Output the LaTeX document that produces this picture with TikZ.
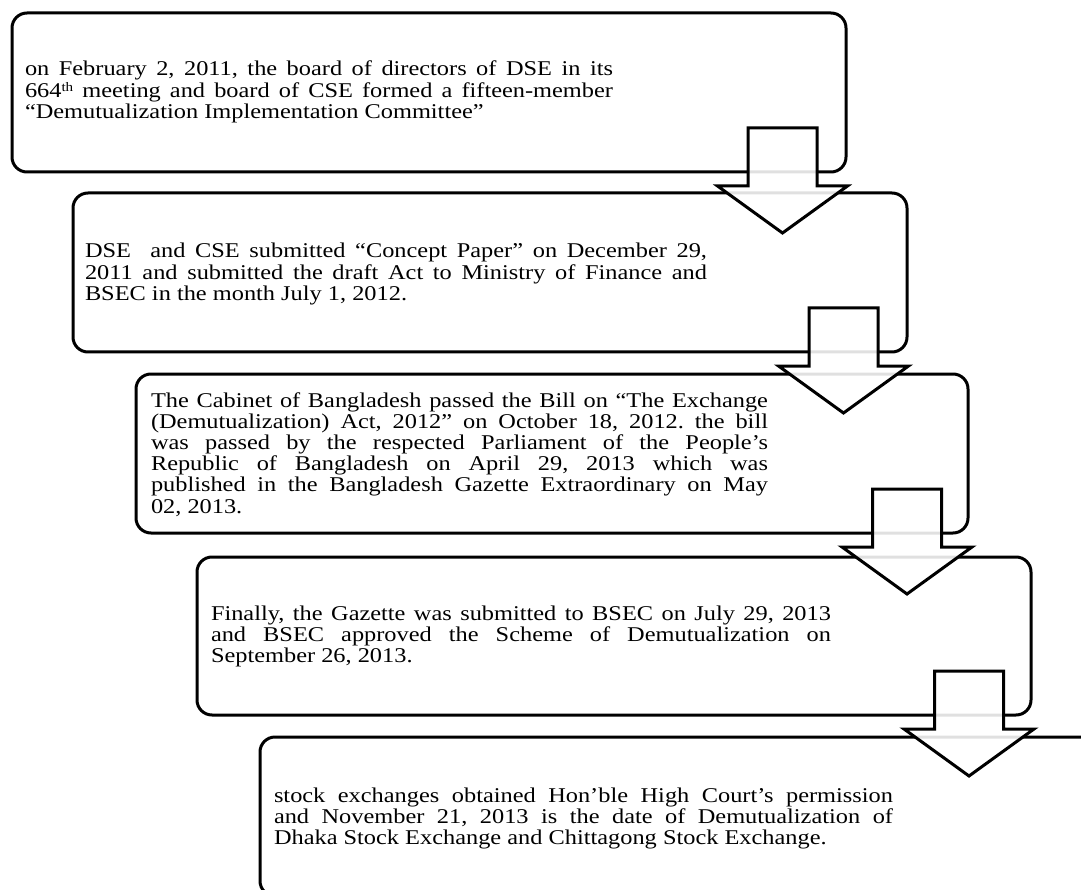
\documentclass[tikz,border=0pt]{standalone}
\usepackage{fontspec}
\setmainfont{Liberation Serif}[FakeStretch=1.16]
\usetikzlibrary{calc}
\hbadness=10000
\hfuzz=100pt
\frenchspacing
\newcommand\jline[2]{\hbox to #1pt{#2}}
\newcommand\lline[1]{\hbox{#1}}
\newcommand\supth{\raisebox{6pt}{\fontsize{13}{13}\selectfont th}}
\newcommand\textblock[1]{\vtop{\baselineskip=21.2pt\lineskiplimit=-50pt\lineskip=0pt #1}}
\begin{document}
\begin{tikzpicture}[x=1pt,y=-1pt,
  stepbox/.style={draw=black,line width=3pt,rounded corners=15pt,inner sep=0pt,outer sep=0pt},
  txt/.style={inner sep=0pt,outer sep=0pt,anchor=base west,font=\fontsize{21}{21}\selectfont\frenchspacing},
  arrowstyle/.style={draw=black,line width=3pt,fill=white,fill opacity=0.88,line join=miter},
  downarrow/.pic={\draw[arrowstyle] (-34.5,-44) -- (34.5,-44) -- (34.5,14) -- (65,14) -- (0,61) -- (-65,14) -- (-34.5,14) -- cycle;}
]
\useasboundingbox (0,0) rectangle (1081,890);
\clip (0,0) rectangle (1081,890);
% boxes
\node[stepbox,minimum width=834pt,minimum height=159pt] (b1) at (429,92.5) {};
\node[stepbox,minimum width=834pt,minimum height=159pt] (b2) at (490,272.5) {};
\node[stepbox,minimum width=832pt,minimum height=159pt] (b3) at (552,453.5) {};
\node[stepbox,minimum width=834pt,minimum height=158pt] (b4) at (614,636) {};
\node[stepbox,minimum width=834pt,minimum height=159pt] (b5) at (677,816.5) {};
% texts
\node[txt] (t1) at (25,76) {\textblock{%
\jline{588}{on February 2, 2011, the board of directors of DSE in its}
\jline{588}{664\supth\ meeting and board of CSE formed a fifteen-member}
\lline{“Demutualization Implementation Committee”}}};
\node[txt] (t2) at (85,258) {\textblock{%
\jline{622}{DSE\ \ and CSE submitted “Concept Paper” on December 29,}
\jline{622}{2011 and submitted the draft Act to Ministry of Finance and}
\lline{BSEC in the month July 1, 2012.}}};
\node[txt] (t3) at (151,407) {\textblock{%
\jline{617}{The Cabinet of Bangladesh passed the Bill on “The Exchange}
\jline{617}{(Demutualization) Act, 2012” on October 18, 2012. the bill}
\jline{617}{was passed by the respected Parliament of the People’s}
\jline{617}{Republic of Bangladesh on April 29, 2013 which was}
\jline{617}{published in the Bangladesh Gazette Extraordinary on May}
\lline{02, 2013.}}};
\node[txt] (t4) at (211,620) {\textblock{%
\jline{620}{Finally, the Gazette was submitted to BSEC on July 29, 2013}
\jline{620}{and BSEC approved the Scheme of Demutualization on}
\lline{September 26, 2013.}}};
\node[txt] (t5) at (274,802) {\textblock{%
\jline{619}{stock exchanges obtained Hon’ble High Court’s permission}
\jline{619}{and November 21, 2013 is the date of Demutualization of}
\lline{Dhaka Stock Exchange and Chittagong Stock Exchange.}}};
% arrows between boxes
\pic at ([xshift=-63.5pt]b1.south east) {downarrow};
\pic at ([xshift=-63.5pt]b2.south east) {downarrow};
\pic at ([xshift=-61pt]b3.south east) {downarrow};
\pic at ([xshift=-62pt]b4.south east) {downarrow};
\end{tikzpicture}
\end{document}
